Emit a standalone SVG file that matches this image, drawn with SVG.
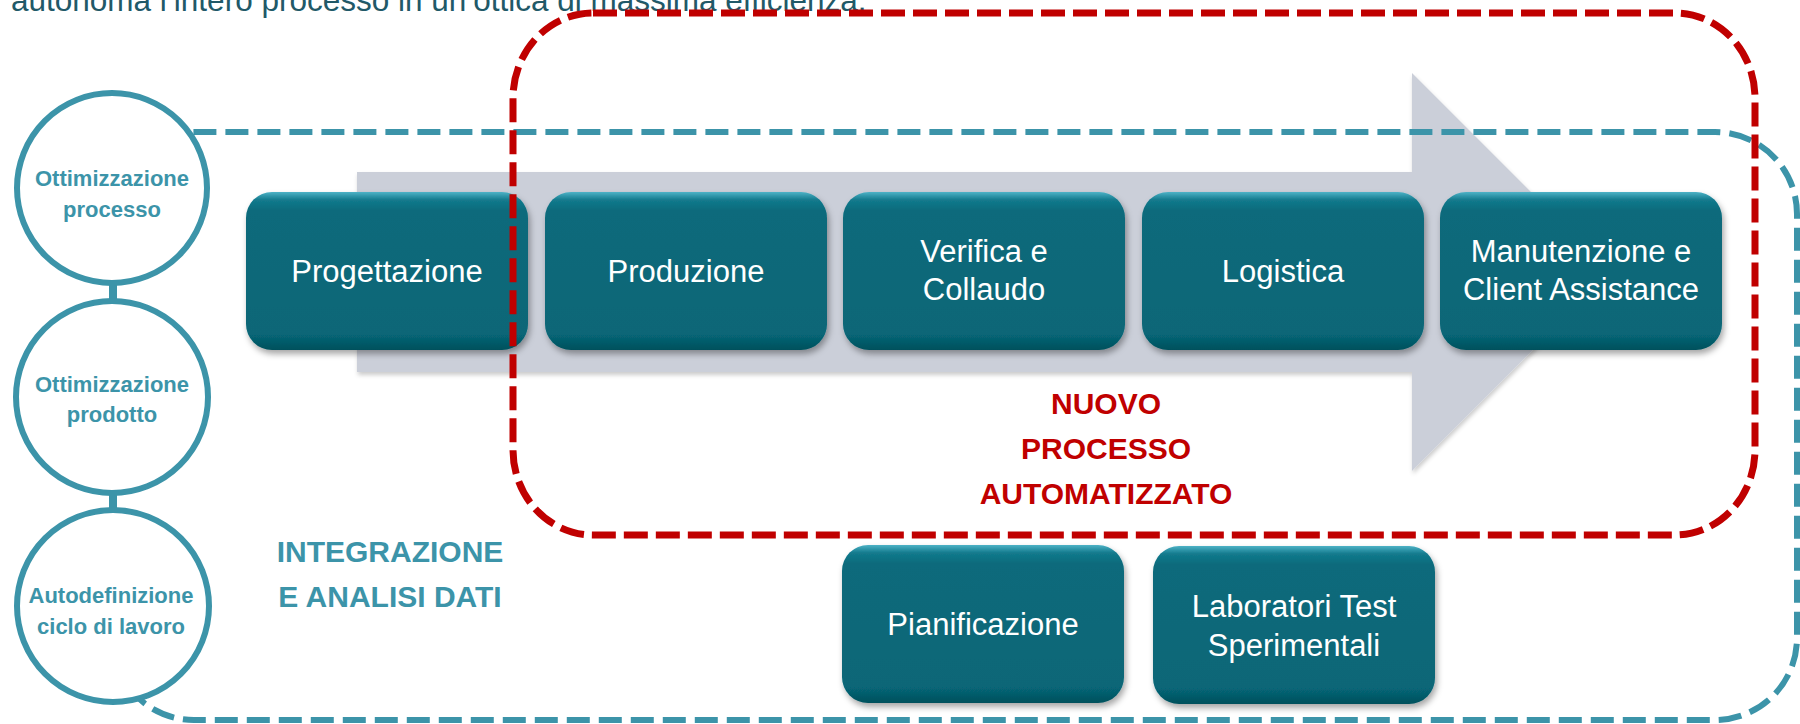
<svg xmlns="http://www.w3.org/2000/svg" width="1800" height="724" viewBox="0 0 1800 724">
<defs>
<linearGradient id="boxGrad" x1="0" y1="0" x2="0" y2="1">
<stop offset="0" stop-color="#4DB2C6"/>
<stop offset="0.05" stop-color="#137A8D"/>
<stop offset="0.12" stop-color="#086A7B"/>
<stop offset="0.9" stop-color="#076677"/>
<stop offset="1" stop-color="#04505C"/>
</linearGradient>
<filter id="shadow" x="-10%" y="-10%" width="125%" height="130%">
<feDropShadow dx="2" dy="4" stdDeviation="3" flood-color="#000" flood-opacity="0.35"/>
</filter>
<filter id="ashadow" x="-5%" y="-5%" width="110%" height="115%">
<feDropShadow dx="1" dy="3" stdDeviation="2" flood-color="#000" flood-opacity="0.2"/>
</filter>
</defs>
<style>
.box{fill:url(#boxGrad);filter:url(#shadow)}
.bt{font-family:"Liberation Sans",Arial,sans-serif;font-size:31px;fill:#FFFFFF;text-anchor:middle}
.circ{fill:#FFFFFF;stroke:#3C94A9;stroke-width:6}
.ct{font-family:"Liberation Sans",Arial,sans-serif;font-size:22px;font-weight:bold;fill:#3C94A9;text-anchor:middle}
.teal{fill:none;stroke:#3C94A9;stroke-width:6;stroke-dasharray:23 9}
.red{fill:none;stroke:#C00000;stroke-width:7;stroke-dasharray:24 8}
.big{font-family:"Liberation Sans",Arial,sans-serif;font-size:30px;font-weight:bold;text-anchor:middle}
.conn{stroke:#3C94A9;stroke-width:8}
</style>
<rect width="1800" height="724" fill="#FFFFFF"/>
<text x="11" y="11" font-family="Liberation Sans, Arial, sans-serif" font-size="31.5" fill="#215968">autonoma l’intero processo in un’ottica di massima efficienza.</text>
<g id="arrow">
<path d="M357,172 H1412 V73 L1611,272 L1412,471 V372 H357 Z" fill="#CBCFD9" filter="url(#ashadow)"/>
</g>
<g id="integrazione-frame">
<path class="teal" d="M112,214 A82,82 0 0 1 194,132 H1715 A82,82 0 0 1 1797,214 V638 A82,82 0 0 1 1715,720 H194 A82,82 0 0 1 112,638"/>
<text class="big" fill="#3C94A9" x="390" y="562">INTEGRAZIONE</text>
<text class="big" fill="#3C94A9" x="390" y="607">E ANALISI DATI</text>
</g>
<g id="connectors">
<line class="conn" x1="113" y1="280" x2="113" y2="303"/>
<line class="conn" x1="113" y1="490" x2="113" y2="513"/>
</g>
<g id="c-processo">
<circle class="circ" cx="112" cy="188" r="95"/>
<text class="ct" x="112" y="186">Ottimizzazione</text>
<text class="ct" x="112" y="217">processo</text>
</g>
<g id="c-prodotto">
<circle class="circ" cx="112" cy="397" r="96"/>
<text class="ct" x="112" y="392">Ottimizzazione</text>
<text class="ct" x="112" y="422">prodotto</text>
</g>
<g id="c-ciclo">
<circle class="circ" cx="113" cy="606" r="96"/>
<text class="ct" x="111" y="603">Autodefinizione</text>
<text class="ct" x="111" y="634">ciclo di lavoro</text>
</g>
<g id="n-progettazione">
<rect class="box" x="246" y="192" width="282" height="158" rx="26"/>
<text class="bt" x="387" y="282">Progettazione</text>
</g>
<g id="n-produzione">
<rect class="box" x="545" y="192" width="282" height="158" rx="26"/>
<text class="bt" x="686" y="282">Produzione</text>
</g>
<g id="n-verifica">
<rect class="box" x="843" y="192" width="282" height="158" rx="26"/>
<text class="bt" x="984" y="262">Verifica e</text>
<text class="bt" x="984" y="300">Collaudo</text>
</g>
<g id="n-logistica">
<rect class="box" x="1142" y="192" width="282" height="158" rx="26"/>
<text class="bt" x="1283" y="282">Logistica</text>
</g>
<g id="n-manutenzione">
<rect class="box" x="1440" y="192" width="282" height="158" rx="26"/>
<text class="bt" x="1581" y="262">Manutenzione e</text>
<text class="bt" x="1581" y="300">Client Assistance</text>
</g>
<g id="n-pianificazione">
<rect class="box" x="842" y="545" width="282" height="158" rx="26"/>
<text class="bt" x="983" y="635">Pianificazione</text>
</g>
<g id="n-laboratori">
<rect class="box" x="1153" y="546" width="282" height="158" rx="26"/>
<text class="bt" x="1294" y="617">Laboratori Test</text>
<text class="bt" x="1294" y="656">Sperimentali</text>
</g>
<g id="nuovo-processo-frame">
<rect class="red" x="513" y="13" width="1242" height="522" rx="80" ry="85"/>
<text class="big" fill="#C00000" x="1106" y="414">NUOVO</text>
<text class="big" fill="#C00000" x="1106" y="459">PROCESSO</text>
<text class="big" fill="#C00000" x="1106" y="504">AUTOMATIZZATO</text>
</g>
</svg>
